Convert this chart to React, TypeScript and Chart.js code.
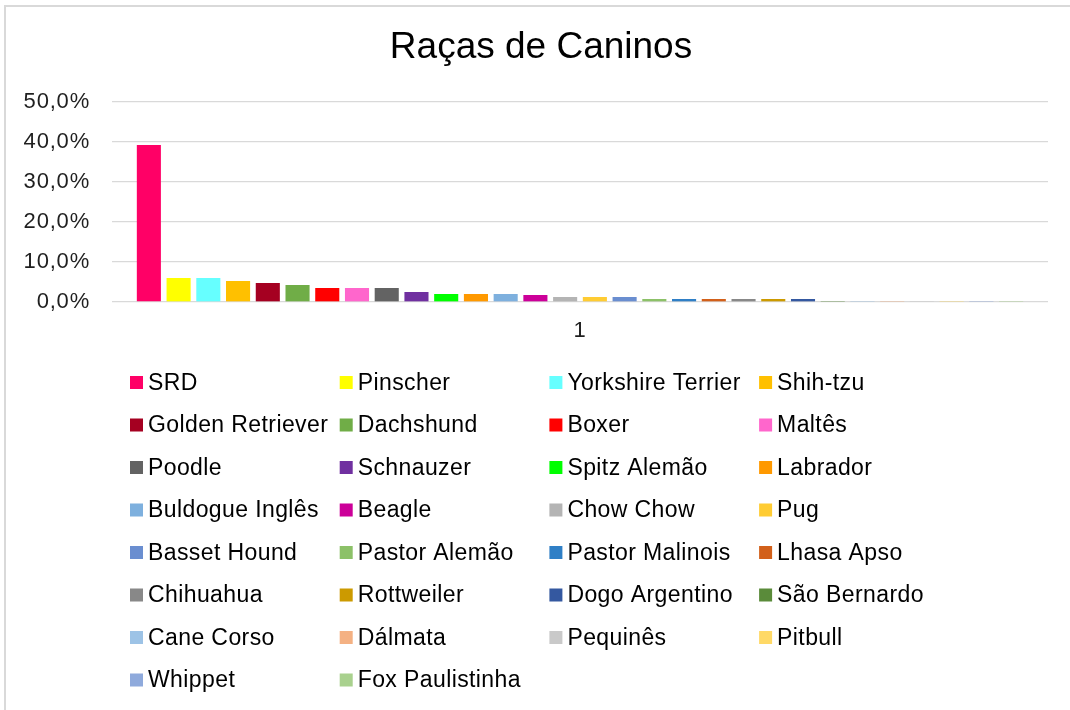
import React, { useEffect, useRef } from "react";
import { Chart, registerables } from "chart.js";

Chart.register(...registerables);

const categories = ["1"];

const chartTitle = "Raças de Caninos";

const breeds = [
  "SRD", "Pinscher", "Yorkshire Terrier", "Shih-tzu",
  "Golden Retriever", "Dachshund", "Boxer", "Maltês",
  "Poodle", "Schnauzer", "Spitz Alemão", "Labrador",
  "Buldogue Inglês", "Beagle", "Chow Chow", "Pug",
  "Basset Hound", "Pastor Alemão", "Pastor Malinois", "Lhasa Apso",
  "Chihuahua", "Rottweiler", "Dogo Argentino", "São Bernardo",
  "Cane Corso", "Dálmata", "Pequinês", "Pitbull",
  "Whippet", "Fox Paulistinha",
];

const shares = [
  39.25, 6.0, 6.0, 5.25,
  4.75, 4.25, 3.5, 3.5,
  3.5, 2.5, 2.0, 2.0,
  2.0, 1.75, 1.25, 1.25,
  1.25, 0.75, 0.75, 0.75,
  0.75, 0.75, 0.75, 0.25,
  0.25, 0.25, 0.25, 0.25,
  0.25, 0.25,
];

const colors = [
  "#FF0066", "#FFFF00", "#66FFFF", "#FFC000",
  "#A50021", "#70AD47", "#FF0000", "#FF66CC",
  "#636363", "#7030A0", "#00FF00", "#FF9900",
  "#7EB0DE", "#CC0099", "#B4B4B4", "#FFCC33",
  "#6A8ED0", "#8CC168", "#2F7FC6", "#D2601A",
  "#888888", "#CC9A00", "#3458A0", "#5A8B3A",
  "#9DC3E6", "#F4B183", "#C9C9C9", "#FFD966",
  "#8FAADC", "#A9D18E",
];

const yTicks = [0, 10, 20, 30, 40, 50];

const FONT = "'Liberation Sans', Arial, sans-serif";

const spacing = {
  id: "spacing",
  beforeDraw(chart: any) {
    chart.ctx.letterSpacing = "0.8px";
  },
};

const titlePlugin = {
  id: "titlePlugin",
  afterDraw(chart: any) {
    const { ctx } = chart;
    ctx.save();
    ctx.letterSpacing = "0px";
    ctx.font = `37px ${FONT}`;
    ctx.fillStyle = "#000000";
    ctx.textAlign = "center";
    ctx.textBaseline = "middle";
    ctx.fillText(chartTitle, chart.width / 2 + 6, 48);
    ctx.restore();
  },
};

const gridLegend = {
  id: "gridLegend",
  afterDraw(chart: any) {
    const { ctx, chartArea } = chart;
    const x0 = chartArea.left + 18;
    const y0 = chartArea.bottom + 80.5;
    const colW = 209.7;
    const rowH = 42.5;
    const box = 13;
    ctx.save();
    ctx.font = `23px ${FONT}`;
    ctx.letterSpacing = "0.4px";
    ctx.textBaseline = "middle";
    ctx.textAlign = "left";
    chart.data.datasets.forEach((ds: any, i: number) => {
      const col = i % 4;
      const row = Math.floor(i / 4);
      const x = x0 + col * colW;
      const y = y0 + row * rowH;
      ctx.fillStyle = ds.backgroundColor;
      ctx.fillRect(x, y - box / 2, box, box);
      ctx.fillStyle = "#000000";
      ctx.fillText(ds.label, x + 18, y + 1);
    });
    ctx.restore();
  },
};

export default function App() {
  const ref = useRef<HTMLCanvasElement | null>(null);

  useEffect(() => {
    document.body.style.margin = "0";
    if (!ref.current) return;
    const chart = new Chart(ref.current, {
      type: "bar",
      data: {
        labels: categories,
        datasets: breeds.map((name, i) => ({
          label: name,
          data: [shares[i]],
          backgroundColor: colors[i],
          borderWidth: 0,
          categoryPercentage: 0.953,
          barPercentage: 0.81,
        })),
      },
      options: {
        responsive: false,
        animation: false,
        layout: { padding: { left: 0, right: 22, top: 102, bottom: 368 } },
        plugins: {
          legend: { display: false },
          tooltip: { enabled: false },
          title: { display: false },
        },
        scales: {
          x: {
            grid: { display: false, drawTicks: false },
            border: { display: false },
            ticks: {
              color: "#1f1f1f",
              font: { family: FONT, size: 22 },
              padding: 16,
            },
            afterFit(scale: any) {
              scale.height = 40;
            },
          },
          y: {
            min: 0,
            max: 50,
            afterBuildTicks(scale: any) {
              scale.ticks = yTicks.map((v) => ({ value: v }));
            },
            grid: { color: "#D9D9D9", lineWidth: 1.3, drawTicks: false },
            border: { display: false },
            ticks: {
              color: "#1f1f1f",
              font: { family: FONT, size: 22 },
              padding: 22,
              callback: (v: any) => `${Number(v).toFixed(1).replace(".", ",")}%`,
            },
            afterFit(scale: any) {
              scale.width = 112;
            },
          },
        },
      },
      plugins: [spacing, titlePlugin, gridLegend],
    });
    return () => chart.destroy();
  }, []);

  return (
    <div style={{ position: "relative", width: 1070, height: 710, overflow: "hidden", background: "#ffffff" }}>
      <div
        style={{
          position: "absolute",
          left: 4,
          top: 5,
          width: 1200,
          height: 900,
          border: "2px solid #D9D9D9",
          boxSizing: "border-box",
        }}
      />
      <canvas
        ref={ref}
        width={1070}
        height={710}
        style={{ position: "absolute", left: 0, top: 0 }}
      />
    </div>
  );
}
